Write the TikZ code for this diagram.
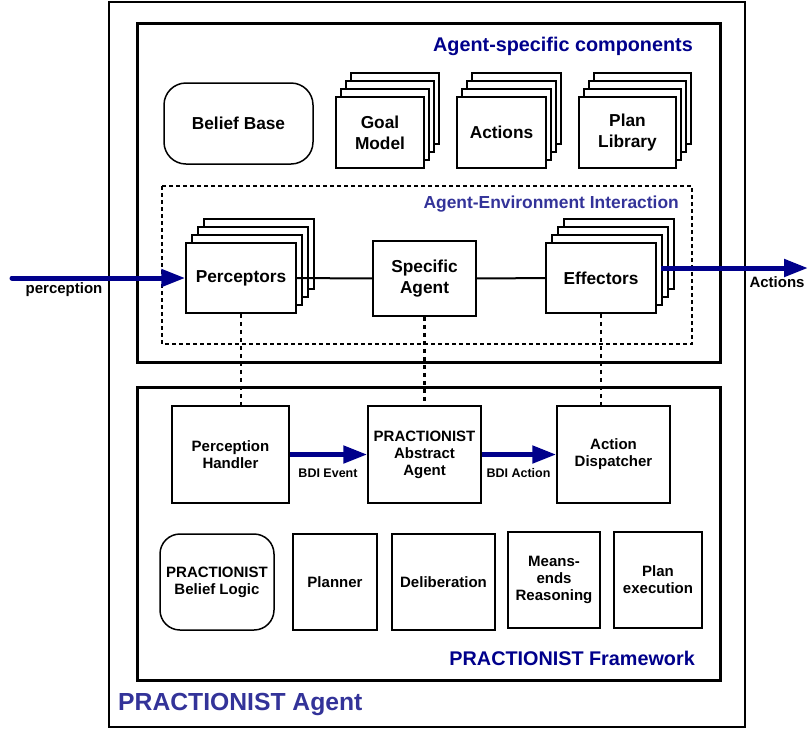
\documentclass[tikz,border=0pt]{standalone}
\usepackage{fontspec}
\setmainfont{Liberation Sans}
\usetikzlibrary{arrows.meta,shadows}

\definecolor{navy}{RGB}{0,0,139}
\definecolor{slate}{RGB}{51,51,153}

\tikzset{
  comp/.style={draw=black, line width=1.5pt, fill=white, align=center, inner sep=0pt,
    font=\bfseries\fontsize{17.3}{21}\selectfont},
  fwbox/.style={draw=black, line width=1.5pt, fill=white, align=center, inner sep=0pt,
    font=\bfseries\fontsize{15}{17}\selectfont},
  layered/.style={copy shadow={shadow xshift=3*#1pt, shadow yshift=24pt},
    copy shadow={shadow xshift=2*#1pt, shadow yshift=16pt},
    copy shadow={shadow xshift=#1pt, shadow yshift=8pt}},
  layered/.default=5,
  flow/.style={draw=navy, line width=5pt, -{Triangle[length=24pt,width=17pt]}},
  flowlabel/.style={font=\bfseries\fontsize{12.5}{15}\selectfont},
  link/.style={line width=2pt},
  dotlink/.style={line width=2.5pt, dash pattern=on 4pt off 4pt},
  title/.style={font=\bfseries\fontsize{19.8}{24}\selectfont, text=navy, inner sep=0pt}
}

\begin{document}
\begin{tikzpicture}[x=1pt,y=-1pt]
 \useasboundingbox (0,0) rectangle (808,729);

 % containers
 \draw[line width=2.5pt] (109,2) rectangle (745,727);
 \draw[line width=3pt] (137,23) rectangle (720,362);
 \draw[line width=3pt] (137,387) rectangle (720,680);
 \draw[line width=2pt, dash pattern=on 4pt off 3pt] (162,186) rectangle (692,344);

 \node[title, anchor=east] (asc) at (693,46) {Agent-specific components};
 \node[title, anchor=east, text=slate, font=\bfseries\fontsize{17.4}{21}\selectfont] (aei) at (679,204) {Agent-Environment Interaction};
 \node[title, anchor=east] (pfw) at (695,658) {PRACTIONIST Framework};
 \node[title, anchor=west, text=slate, font=\bfseries\fontsize{24.7}{29}\selectfont] (pag) at (118,704) {PRACTIONIST Agent};

 % agent-specific components
 \node[comp, rounded corners=22pt, minimum width=149pt, minimum height=81pt] (bb) at (238.5,123.5) {Belief Base};
 \node[comp, layered, minimum width=88pt, minimum height=71pt] (gm) at (380,132.5) {Goal\\Model};
 \node[comp, layered, minimum width=89pt, minimum height=71pt] (act) at (501.5,132.5) {Actions};
 \node[comp, layered, minimum width=97pt, minimum height=71pt] (pl) at (627.5,132.5) {Plan\\Library};

 % agent-environment interaction
 \node[comp, layered=6, minimum width=110pt, minimum height=70pt] (perc) at (241,278) {Perceptors};
 \node[comp, minimum width=103pt, minimum height=75pt] (sa) at (424.5,278.5) {Specific\\Agent};
 \node[comp, layered=6, minimum width=110pt, minimum height=70pt] (eff) at (601,278) {Effectors};

 \draw[link] (perc) -- (sa);
 \draw[link] (sa) -- (eff);

 \coordinate (percin) at (12,278);
 \coordinate (actout) at (808,268);
 \draw[flow, line cap=round] (percin) -- (perc.west);
 \draw[flow] ([shift={(4,-10)}]eff.east) -- (actout);
 \node[flowlabel, font=\bfseries\fontsize{15}{17}\selectfont] (perclbl) at (64,290) {perception};
 \node[flowlabel, font=\bfseries\fontsize{15}{17}\selectfont] (actlbl) at (777,282) {Actions};

 % framework
 \node[fwbox, minimum width=117pt, minimum height=97pt] (ph) at (230.5,454.5) {Perception\\Handler};
 \node[fwbox, minimum width=113pt, minimum height=97pt] (aa) at (424.5,454.5) {PRACTIONIST\\Abstract\\Agent};
 \node[fwbox, minimum width=113pt, minimum height=97pt] (ad) at (613.5,454.5) {Action\\Dispatcher};

 \draw[flow] (ph) -- (aa);
 \draw[flow] (aa) -- (ad);
 \node[flowlabel] (bdiev) at (328,473.5) {BDI Event};
 \node[flowlabel] (bdiac) at (518.5,473.5) {BDI Action};

 \draw[dotlink] (perc.south) -- (perc.south |- ph.north);
 \draw[dotlink] (sa.south) -- (aa.north);
 \draw[dotlink] (eff.south) -- (eff.south |- ad.north);

 \node[fwbox, rounded corners=20pt, minimum width=114pt, minimum height=96pt] (bl) at (217,582) {PRACTIONIST\\Belief Logic};
 \node[fwbox, minimum width=84pt, minimum height=96pt] (plan) at (335,582) {Planner};
 \node[fwbox, minimum width=103pt, minimum height=96pt] (del) at (443.5,582) {Deliberation};
 \node[fwbox, minimum width=92pt, minimum height=96pt] (mer) at (554,580) {Means-\\ends\\Reasoning};
 \node[fwbox, minimum width=88pt, minimum height=96pt] (pe) at (658,580) {Plan\\execution};

\end{tikzpicture}
\end{document}
